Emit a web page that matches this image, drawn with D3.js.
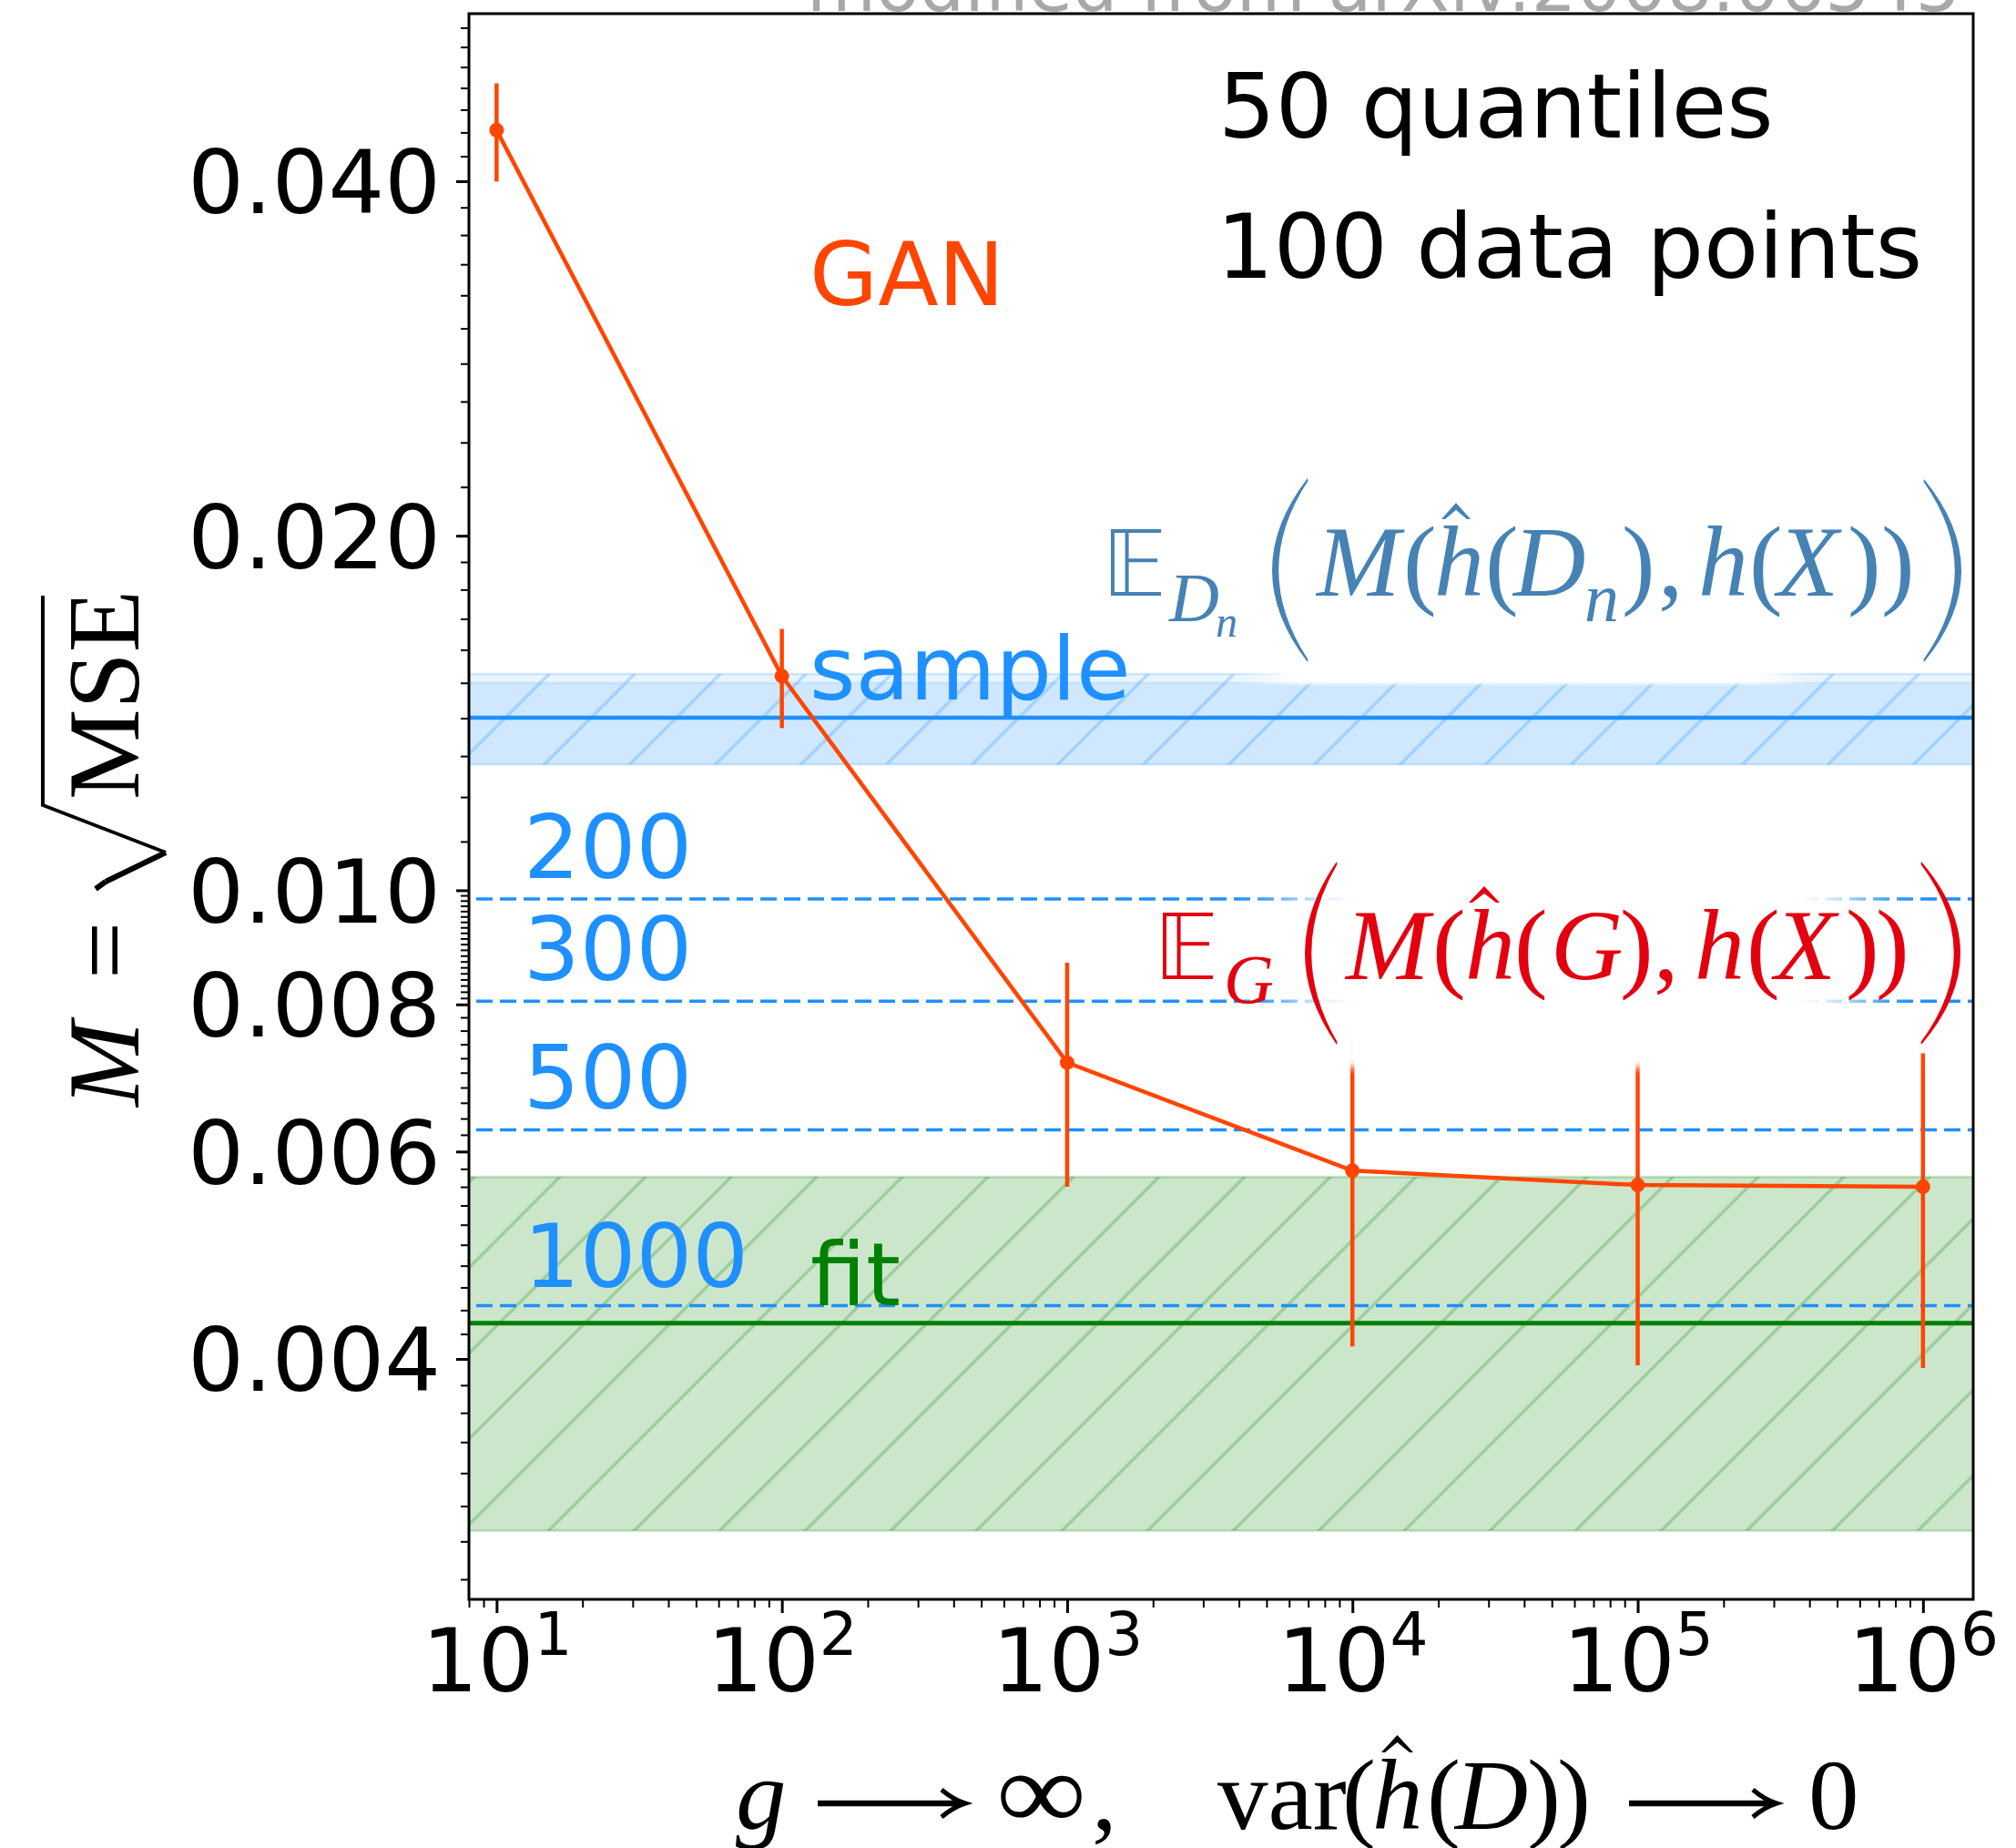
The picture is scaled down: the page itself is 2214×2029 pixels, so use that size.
<!DOCTYPE html>
<html>
<head>
<meta charset="utf-8">
<script src="https://cdn.jsdelivr.net/npm/d3@7"></script>
<style>
  html, body { margin: 0; padding: 0; background: #ffffff; }
  svg { display: block; }
</style>
</head>
<body>
<script>
// ---- values ----
const gValues   = [1e1, 1e2, 1e3, 1e4, 1e5, 1e6];
const ganMean   = [0.0442, 0.0152, 0.00714, 0.00578, 0.00562, 0.00560];
const ganErr    = [0.00423, 0.00147, 0.00154, 0.00168, 0.00167, 0.00167];

const sampleLevels = [0.01279, 0.01401, 0.01526];   // band low, central line, band high
const sampleInnerTop = 0.01500;                     // upper edge of the denser band layer
const fitLevels    = [0.00286, 0.00429, 0.00571];   // band low, central line, band high

const sizeLabels = ["200", "300", "500", "1000"];
const sizeLevels = [0.00983, 0.00805, 0.00626, 0.00444];

const xTickValues = [1e1, 1e2, 1e3, 1e4, 1e5, 1e6];
const xTickExp    = ["1", "2", "3", "4", "5", "6"];
const yTickValues = [0.040, 0.020, 0.010, 0.008, 0.006, 0.004];
const yTickLabels = ["0.040", "0.020", "0.010", "0.008", "0.006", "0.004"];

// ---- layout ----
const W = 2214, H = 2029;
const L = 515, R = 2167, T = 15, B = 1756;

const C = {
  gan: "#FF4500", blue: "#1E90FF", green: "#008000",
  steel: "#4682B4", red: "#E3000F", gray: "#A8A8A8"
};
const SANS = "DejaVu Sans";
const SERIF = "Liberation Serif";

const svg = d3.select("body").append("svg")
  .attr("width", W).attr("height", H)
  .attr("viewBox", `0 0 ${W} ${H}`);
svg.append("rect").attr("width", W).attr("height", H).attr("fill", "#fff");

const x = d3.scaleLog().domain([8, 1.5e6]).range([L, R]);
const y = d3.scaleLog().domain([0.0025, 0.0555]).range([B, T]);

const defs = svg.append("defs");
defs.append("clipPath").attr("id", "plotclip")
  .append("rect").attr("x", L).attr("y", T).attr("width", R - L).attr("height", B - T);

function hatch(id, color, opacity) {
  const p = defs.append("pattern").attr("id", id)
    .attr("patternUnits", "userSpaceOnUse")
    .attr("width", 94).attr("height", 94)
    .attr("x", 27).attr("y", 0);
  p.append("path")
    .attr("d", "M0,94 L94,0 M-10,10 L10,-10 M84,104 L104,84")
    .attr("stroke", color).attr("stroke-opacity", opacity)
    .attr("stroke-width", 3.5).attr("fill", "none");
}
hatch("hatchBlue", C.blue, 0.26);
hatch("hatchGreen", C.green, 0.24);

function soft(id, sx, sy) {
  const f = defs.append("filter").attr("id", id)
    .attr("x", "-30%").attr("y", "-30%").attr("width", "160%").attr("height", "160%");
  f.append("feGaussianBlur").attr("stdDeviation", `${sx} ${sy}`);
}
soft("softBlue", 25, 1.5);
soft("softRed", 35, 4);

const plot = svg.append("g").attr("clip-path", "url(#plotclip)");

// ---- fit band (green) ----
const fitTop = y(fitLevels[2]), fitBot = y(fitLevels[0]);
plot.append("rect").attr("x", L).attr("width", R - L)
  .attr("y", fitTop).attr("height", fitBot - fitTop)
  .attr("fill", C.green).attr("fill-opacity", 0.2);
plot.append("rect").attr("x", L).attr("width", R - L)
  .attr("y", fitTop).attr("height", fitBot - fitTop)
  .attr("fill", "url(#hatchGreen)");
[fitTop, fitBot].forEach(v => plot.append("line")
  .attr("x1", L).attr("x2", R).attr("y1", v).attr("y2", v)
  .attr("stroke", C.green).attr("stroke-opacity", 0.2).attr("stroke-width", 3));

// ---- sample band (blue) ----
const sTop = y(sampleLevels[2]), sBot = y(sampleLevels[0]), sInner = y(sampleInnerTop);
plot.append("rect").attr("x", L).attr("width", R - L)
  .attr("y", sTop).attr("height", sBot - sTop)
  .attr("fill", C.blue).attr("fill-opacity", 0.1);
plot.append("rect").attr("x", L).attr("width", R - L)
  .attr("y", sInner).attr("height", sBot - sInner)
  .attr("fill", C.blue).attr("fill-opacity", 0.12);
plot.append("rect").attr("x", L).attr("width", R - L)
  .attr("y", sTop).attr("height", sBot - sTop)
  .attr("fill", "url(#hatchBlue)");
[sTop, sInner, sBot].forEach((v, i) => plot.append("line")
  .attr("x1", L).attr("x2", R).attr("y1", v).attr("y2", v)
  .attr("stroke", C.blue).attr("stroke-opacity", i === 1 ? 0.1 : 0.2).attr("stroke-width", 2.5));

// central lines
plot.append("line").attr("x1", L).attr("x2", R)
  .attr("y1", y(sampleLevels[1])).attr("y2", y(sampleLevels[1]))
  .attr("stroke", C.blue).attr("stroke-width", 4.5);
plot.append("line").attr("x1", L).attr("x2", R)
  .attr("y1", y(fitLevels[1])).attr("y2", y(fitLevels[1]))
  .attr("stroke", C.green).attr("stroke-width", 5);

// dashed reference levels for larger samples
plot.selectAll("line.size").data(sizeLevels).join("line")
  .attr("class", "size")
  .attr("x1", L + 8).attr("x2", R)
  .attr("y1", d => y(d)).attr("y2", d => y(d))
  .attr("stroke", C.blue).attr("stroke-width", 3.5)
  .attr("stroke-dasharray", "18,8");

// ---- GAN curve ----
const ganPts = gValues.map((g, i) => ({ g, m: ganMean[i], e: ganErr[i] }));
plot.append("path").datum(ganPts)
  .attr("d", d3.line().x(d => x(d.g)).y(d => y(d.m)))
  .attr("fill", "none").attr("stroke", C.gan).attr("stroke-width", 4.5);
plot.selectAll("line.err").data(ganPts).join("line")
  .attr("class", "err")
  .attr("x1", d => x(d.g)).attr("x2", d => x(d.g))
  .attr("y1", d => y(d.m + d.e)).attr("y2", d => y(d.m - d.e))
  .attr("stroke", C.gan).attr("stroke-width", 4.5);
plot.selectAll("circle.pt").data(ganPts).join("circle")
  .attr("class", "pt")
  .attr("cx", d => x(d.g)).attr("cy", d => y(d.m)).attr("r", 8)
  .attr("fill", C.gan);

// ---- white backdrops behind the two formulas ----
plot.append("rect").attr("x", 1390).attr("y", 500).attr("width", 570).attr("height", 251)
  .attr("fill", "#fff").attr("filter", "url(#softBlue)");
plot.append("rect").attr("x", 1420).attr("y", 925).attr("width", 620).attr("height", 247)
  .attr("fill", "#fff").attr("filter", "url(#softRed)");

// ---- axes ----
const minorY = [].concat(
  d3.range(0.042, 0.0556, 0.002),
  d3.range(0.022, 0.0399, 0.002),
  d3.range(0.011, 0.0199, 0.001),
  d3.range(0.0081, 0.00999, 0.0001),
  d3.range(0.0026, 0.00799, 0.0002)
).map(v => +v.toFixed(5)).filter(v => !yTickValues.includes(v) && v >= 0.0025 && v <= 0.0555);

const minorX = [];
[1, 10, 100, 1000, 10000, 100000].forEach(base => {
  for (let k = 2; k <= 9; k++) minorX.push(base * k);
});
const minorXIn = minorX.filter(v => v >= 8 && v <= 1.5e6 && !xTickValues.includes(v));

const yMinorAxis = svg.append("g").attr("transform", `translate(${L},0)`)
  .call(d3.axisLeft(y).tickValues(minorY).tickSize(9).tickSizeOuter(0).tickFormat(""));
yMinorAxis.select(".domain").remove();
yMinorAxis.selectAll("line").attr("stroke", "#000").attr("stroke-width", 2);

const yAxis = svg.append("g").attr("transform", `translate(${L},0)`)
  .call(d3.axisLeft(y).tickValues(yTickValues).tickSize(14).tickPadding(17).tickSizeOuter(0)
    .tickFormat((d, i) => yTickLabels[i]));
yAxis.select(".domain").remove();
yAxis.selectAll("line").attr("stroke", "#000").attr("stroke-width", 3);
yAxis.selectAll("text")
  .attr("font-family", SANS).attr("font-size", 97).attr("fill", "#000")
  .attr("dy", "0.36em");

const xMinorAxis = svg.append("g").attr("transform", `translate(0,${B})`)
  .call(d3.axisBottom(x).tickValues(minorXIn).tickSize(9).tickSizeOuter(0).tickFormat(""));
xMinorAxis.select(".domain").remove();
xMinorAxis.selectAll("line").attr("stroke", "#000").attr("stroke-width", 2);

const xAxis = svg.append("g").attr("transform", `translate(0,${B})`)
  .call(d3.axisBottom(x).tickValues(xTickValues).tickSize(15).tickSizeOuter(0).tickFormat(""));
xAxis.select(".domain").remove();
xAxis.selectAll("line").attr("stroke", "#000").attr("stroke-width", 3);
xAxis.selectAll(".tick").each(function (d, i) {
  const t = d3.select(this).append("text")
    .attr("x", 0).attr("y", 101)
    .attr("text-anchor", "middle")
    .attr("font-family", SANS).attr("fill", "#000");
  t.append("tspan").attr("font-size", 97).text("10");
  t.append("tspan").attr("font-size", 66).attr("dy", -40).text(xTickExp[i]);
});

// frame
svg.append("rect").attr("x", L).attr("y", T).attr("width", R - L).attr("height", B - T)
  .attr("fill", "none").attr("stroke", "#000").attr("stroke-width", 3);

// ---- annotations ----
function label(txt, px, py, color, size) {
  svg.append("text").attr("x", px).attr("y", py)
    .attr("font-family", SANS).attr("font-size", size || 97)
    .attr("fill", color).text(txt);
}
label("50 quantiles", 1338, 151, "#000", 98.5);
label("100 data points", 1336, 305, "#000", 98.5);
label("GAN", 889, 335, C.gan);
label("sample", 889, y(sampleLevels[1]) - 20, C.blue);
label("fit", 890, y(fitLevels[1]) - 20, C.green);
const sizeBaselines = [964, 1076, 1217, 1413];
sizeLabels.forEach((s, i) => label(s, 575, sizeBaselines[i], C.blue));

svg.append("text").attr("x", 886).attr("y", 12)
  .attr("font-family", SANS).attr("font-size", 78)
  .attr("fill", C.gray).text("modified from arXiv:2008.06545");

// ---- math helpers ----
function mtext(g, txt, px, py, size, italic, color, opts) {
  const t = g.append("text").attr("x", px).attr("y", py)
    .attr("font-family", SERIF).attr("font-size", size)
    .attr("font-style", italic ? "italic" : "normal")
    .attr("fill", color).text(txt);
  if (opts && opts.len) t.attr("textLength", opts.len).attr("lengthAdjust", "spacingAndGlyphs");
  return t;
}
function dblE(g, x0, x1, yT, yB, color) {
  const w = x1 - x0, h = yB - yT, inner = x0 + 0.32 * w;
  const p = d3.path();
  p.moveTo(x0 + 2, yT); p.lineTo(x0 + 2, yB);
  p.moveTo(inner, yT); p.lineTo(inner, yB);
  p.moveTo(x0, yT + 2); p.lineTo(x1, yT + 2);
  p.moveTo(inner, yT + 0.47 * h); p.lineTo(x1 - 4, yT + 0.47 * h);
  p.moveTo(x0, yB - 2); p.lineTo(x1, yB - 2);
  g.append("path").attr("d", p.toString()).attr("stroke", color)
    .attr("stroke-width", 4).attr("fill", "none");
}
function bigParen(g, x0, x1, yT, yB, left, color) {
  const ym = (yT + yB) / 2, th = 7;
  let d;
  if (left) {
    const co = 2 * x0 - x1, ci = 2 * (x0 + th) - x1;
    d = `M${x1},${yT} Q${co},${ym} ${x1},${yB} L${x1 + 0.5},${yB - 3} Q${ci},${ym} ${x1 + 0.5},${yT + 3} Z`;
  } else {
    const co = 2 * x1 - x0, ci = 2 * (x1 - th) - x0;
    d = `M${x0},${yT} Q${co},${ym} ${x0},${yB} L${x0 - 0.5},${yB - 3} Q${ci},${ym} ${x0 - 0.5},${yT + 3} Z`;
  }
  g.append("path").attr("d", d).attr("fill", color);
}
function hat(g, x0, x1, yT, yB, color) {
  const xm = (x0 + x1) / 2;
  g.append("path")
    .attr("d", `M${x0},${yB} L${xm},${yT} L${x1},${yB} L${x1 - 4},${yB} L${xm},${yT + 8} L${x0 + 4},${yB} Z`)
    .attr("fill", color);
}
function longArrow(g, x0, x1, yy, color) {
  g.append("line").attr("x1", x0).attr("x2", x1 - 4).attr("y1", yy).attr("y2", yy)
    .attr("stroke", color).attr("stroke-width", 6.5);
  g.append("path").attr("d", `M${x1 - 26},${yy - 15} Q${x1 - 13},${yy - 4} ${x1},${yy} Q${x1 - 13},${yy + 4} ${x1 - 26},${yy + 15}`)
    .attr("stroke", color).attr("stroke-width", 5).attr("fill", "none");
}

// ---- E_{D_n}( M(ĥ(D_n), h(X)) ) ----
const fb = svg.append("g");
{
  const c = C.steel, bl = 654, fs = 110;
  dblE(fb, 1220, 1275, 581, 654, c);
  mtext(fb, "D", 1284, 682, 76, true, c);
  mtext(fb, "n", 1335, 699, 48, true, c);
  bigParen(fb, 1397, 1436, 525, 727, true, c);
  mtext(fb, "M", 1446, bl, fs, true, c);
  mtext(fb, "(", 1541, bl, fs, false, c);
  mtext(fb, "h", 1575, bl, fs, true, c);
  hat(fb, 1583, 1615, 552, 570, c);
  mtext(fb, "(", 1631, bl, fs, false, c);
  mtext(fb, "D", 1662, bl, fs, true, c);
  mtext(fb, "n", 1740, 682, 76, true, c);
  mtext(fb, ")", 1781, bl, fs, false, c);
  mtext(fb, ",", 1821, bl, fs, false, c);
  mtext(fb, "h", 1865, bl, fs, true, c);
  mtext(fb, "(", 1921, bl, fs, false, c);
  mtext(fb, "X", 1952, bl, fs, true, c);
  mtext(fb, ")", 2029, bl, fs, false, c);
  mtext(fb, ")", 2066, bl, fs, false, c);
  bigParen(fb, 2113, 2154, 526, 727, false, c);
}

// ---- E_G( M(ĥ(G), h(X)) ) ----
const fr = svg.append("g");
{
  const c = C.red, bl = 1075, fs = 110;
  dblE(fr, 1277, 1332, 1002, 1075, c);
  mtext(fr, "G", 1344, 1101, 76, true, c);
  bigParen(fr, 1433, 1468, 946, 1147, true, c);
  mtext(fr, "M", 1478, bl, fs, true, c);
  mtext(fr, "(", 1573, bl, fs, false, c);
  mtext(fr, "h", 1609, bl, fs, true, c);
  hat(fr, 1613, 1647, 973, 991, c);
  mtext(fr, "(", 1663, bl, fs, false, c);
  mtext(fr, "G", 1703, bl, fs, true, c);
  mtext(fr, ")", 1779, bl, fs, false, c);
  mtext(fr, ",", 1816, bl, fs, false, c);
  mtext(fr, "h", 1861, bl, fs, true, c);
  mtext(fr, "(", 1918, bl, fs, false, c);
  mtext(fr, "X", 1949, bl, fs, true, c);
  mtext(fr, ")", 2027, bl, fs, false, c);
  mtext(fr, ")", 2060, bl, fs, false, c);
  bigParen(fr, 2110, 2153, 946, 1147, false, c);
}

// ---- x axis title: g -> inf,  var(ĥ(D)) -> 0 ----
const xl = svg.append("g");
{
  const c = "#000", bl = 2008, fs = 111;
  mtext(xl, "g", 808, bl, fs, true, c);
  longArrow(xl, 898, 1060, 1980, c);
  mtext(xl, "\u221E", 1094, bl, fs * 1.1, false, c, { len: 99 });
  mtext(xl, ",", 1199, bl, fs, false, c);
  mtext(xl, "var", 1337, bl, fs, false, c);
  mtext(xl, "(", 1474, bl, fs, false, c);
  mtext(xl, "h", 1507, bl, fs, true, c);
  hat(xl, 1517, 1552, 1905, 1924, c);
  mtext(xl, "(", 1567, bl, fs, false, c);
  mtext(xl, "D", 1598, bl, fs, true, c);
  mtext(xl, ")", 1677, bl, fs, false, c);
  mtext(xl, ")", 1710, bl, fs, false, c);
  longArrow(xl, 1789, 1951, 1980, c);
  mtext(xl, "0", 1986, bl, fs, false, c);
}

// ---- y axis title: M = sqrt(MSE) ----
const yl = svg.append("g").attr("transform", "translate(152,1217) rotate(-90)");
{
  const c = "#000", fs = 112;
  mtext(yl, "M", 2, 0, fs, true, c);
  mtext(yl, "=", 142, 0, fs, false, c);
  yl.append("path").attr("d", "M241,-47 L249,-36").attr("stroke", c).attr("stroke-width", 6).attr("fill", "none");
  yl.append("path").attr("d", "M249,-36 L281,30").attr("stroke", c).attr("stroke-width", 6).attr("fill", "none");
  yl.append("path").attr("d", "M281,30 L333,-105 L563,-105").attr("stroke", c).attr("stroke-width", 4).attr("fill", "none");
  mtext(yl, "MSE", 339, 0, fs, false, c);
}
</script>
</body>
</html>
